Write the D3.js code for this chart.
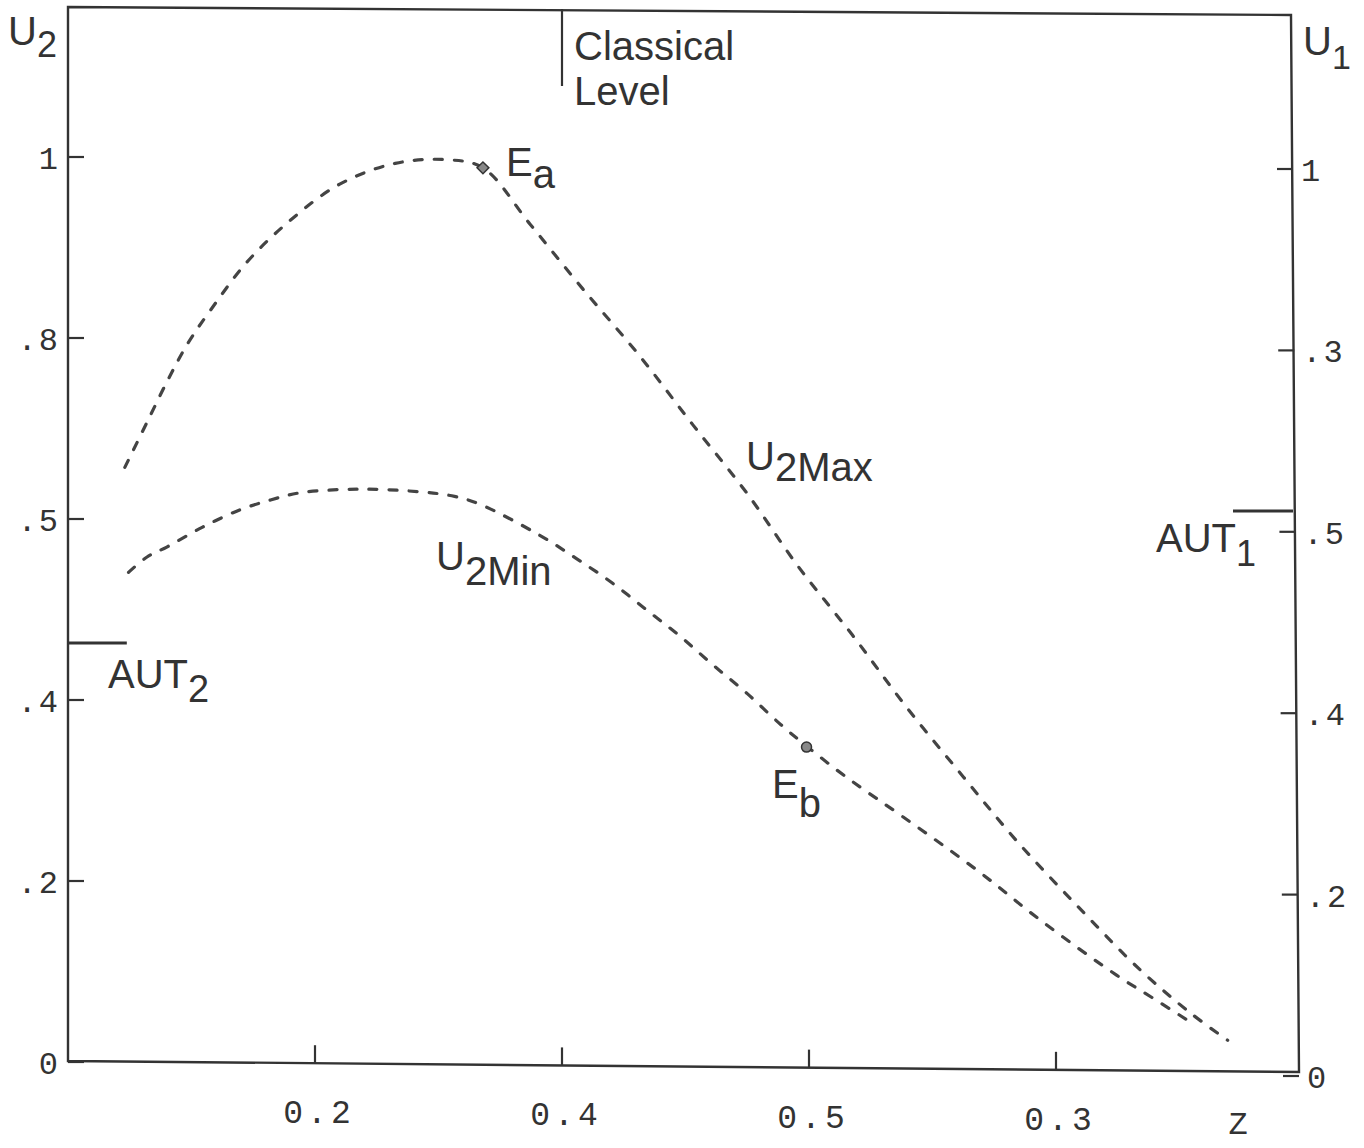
<!DOCTYPE html>
<html><head><meta charset="utf-8">
<script src="https://cdn.jsdelivr.net/npm/d3@7"></script>
<style>body{margin:0;background:#fff}</style>
</head><body><svg id="c" width="1364" height="1148"></svg>
<script>
// ---------- data ----------
const u2MaxZ = [0.046,0.064,0.081,0.097,0.115,0.145,0.180,0.220,0.265,0.307,0.336,0.374,0.417,0.463,0.506,0.550,0.591,0.635,0.679,0.725,0.769,0.819,0.868,0.909,0.939];
const u2MaxV = [0.657,0.707,0.754,0.794,0.830,0.884,0.930,0.970,0.993,0.997,0.988,0.926,0.854,0.780,0.704,0.628,0.548,0.472,0.392,0.315,0.243,0.170,0.102,0.054,0.024];
const u2MinZ = [0.049,0.064,0.080,0.109,0.139,0.164,0.188,0.236,0.285,0.313,0.334,0.382,0.412,0.441,0.469,0.496,0.522,0.550,0.577,0.598,0.631,0.676,0.736,0.789,0.849,0.878,0.909];
const u2MinV = [0.541,0.558,0.569,0.591,0.610,0.621,0.629,0.633,0.630,0.625,0.616,0.582,0.556,0.529,0.499,0.470,0.439,0.407,0.373,0.349,0.314,0.271,0.212,0.155,0.096,0.071,0.044];
const xTicks = [0.2,0.4,0.6,0.8];
const xTickLabels = ["0.2","0.4","0.5","0.3"];
const yTicks = [0,0.2,0.4,0.6,0.8,1];
const leftTickLabels = ["0",".2",".4",".5",".8","1"];
const rightTickLabels = ["0",".2",".4",".5",".3","1"];
const eqNames = ["a","b"];
const eqZ = [0.336,0.598];
const eqV = [0.988,0.348];
const classicalZ = 0.4;
const aut2Level = 0.463;   // left scale
const aut1Level = 0.623;   // right scale

// ---------- scales ----------
const svg = d3.select("#c");
const x = d3.scaleLinear().domain([0,1]).range([68,1303]);
const yL = d3.scaleLinear().domain([0,1]).range([1062,157]);
const yR = d3.scaleLinear().domain([0,1]).range([1076,169]);
const bottomY = d3.scaleLinear().domain([68,1299]).range([1061,1072]);

const ink = "#333";
const sans = "'Liberation Sans', Arial, sans-serif";
const mono = "'Liberation Mono', 'DejaVu Sans Mono', monospace";

svg.append("rect").attr("width",1364).attr("height",1148).attr("fill","#fff");

// frame (slightly skewed like the scan)
svg.append("path")
  .attr("d","M68,7 L1291,15 L1299,1072 L68,1061 Z")
  .attr("fill","none").attr("stroke",ink).attr("stroke-width",2.4);

// left axis ticks + labels
const gl = svg.append("g");
yTicks.forEach((t,i)=>{
  gl.append("line").attr("x1",68).attr("x2",84).attr("y1",yL(t)).attr("y2",yL(t))
    .attr("stroke",ink).attr("stroke-width",2.2);
  gl.append("text").attr("x",60).attr("y",yL(t)+12).attr("text-anchor","end")
    .attr("font-family",mono).attr("font-size",32).attr("fill",ink)
    .attr("letter-spacing",2).text(leftTickLabels[i]);
});
// right axis ticks + labels
const gr = svg.append("g");
yTicks.forEach((t,i)=>{
  const xr = 1292 + 7*(yR(t)-15)/1057;
  gr.append("line").attr("x1",xr-16).attr("x2",xr).attr("y1",yR(t)).attr("y2",yR(t))
    .attr("stroke",ink).attr("stroke-width",2.2);
  gr.append("text").attr("x",xr+8).attr("y",yR(t)+12).attr("text-anchor","start")
    .attr("font-family",mono).attr("font-size",32).attr("fill",ink)
    .attr("letter-spacing",2).text(rightTickLabels[i]);
});
// bottom ticks + labels
const gb = svg.append("g");
xTicks.forEach((t,i)=>{
  const by = bottomY(x(t));
  gb.append("line").attr("x1",x(t)).attr("x2",x(t)).attr("y1",by).attr("y2",by-18)
    .attr("stroke",ink).attr("stroke-width",2.2);
  gb.append("text").attr("x",x(t)+4).attr("y",by+60).attr("text-anchor","middle")
    .attr("font-family",mono).attr("font-size",33).attr("fill",ink)
    .attr("letter-spacing",4).text(xTickLabels[i]);
});
svg.append("text").attr("x",1238).attr("y",1134).attr("text-anchor","middle")
  .attr("font-family",mono).attr("font-size",32).attr("fill",ink).text("Z");

// axis titles
function subText(px,py,main,sub,dy,size,subSize){
  const t = svg.append("text").attr("x",px).attr("y",py)
    .attr("font-family",sans).attr("font-size",size).attr("fill",ink);
  t.append("tspan").text(main);
  t.append("tspan").attr("dy",dy).attr("font-size",subSize||size).text(sub);
  return t;
}
subText(8,45,"U","2",12,40,36);
subText(1303,55,"U","1",14,40,34);

// classical level
svg.append("line").attr("x1",x(classicalZ)).attr("x2",x(classicalZ)).attr("y1",9).attr("y2",86)
  .attr("stroke",ink).attr("stroke-width",2.2);
svg.append("text").attr("x",574).attr("y",60).attr("font-family",sans).attr("font-size",40).attr("fill",ink).text("Classical");
svg.append("text").attr("x",574).attr("y",105).attr("font-family",sans).attr("font-size",40).attr("fill",ink).text("Level");

// AUT levels
svg.append("line").attr("x1",68).attr("x2",x(u2MaxZ[0])+2).attr("y1",yL(aut2Level)).attr("y2",yL(aut2Level))
  .attr("stroke",ink).attr("stroke-width",3);
subText(108,688,"AUT","2",14,40,38);
svg.append("line").attr("x1",1233).attr("x2",1293).attr("y1",yR(aut1Level)).attr("y2",yR(aut1Level))
  .attr("stroke",ink).attr("stroke-width",3);
subText(1156,552,"AUT","1",14,40,36);

// curves
const line = d3.line().x(d=>x(d[0])).y(d=>yL(d[1])).curve(d3.curveCatmullRom.alpha(0.5));
const maxPts = u2MaxZ.map((z,i)=>[z,u2MaxV[i]]);
const minPts = u2MinZ.map((z,i)=>[z,u2MinV[i]]);
[maxPts,minPts].forEach(p=>{
  svg.append("path").attr("d",line(p)).attr("fill","none")
    .attr("stroke","#444").attr("stroke-width",3.2)
    .attr("stroke-dasharray","8,12").attr("stroke-linecap","round");
});

// curve labels
subText(746,470,"U","2Max",11,40,40);
subText(436,570,"U","2Min",15,40,40);

// equilibrium points
svg.append("path").attr("transform",`translate(${x(eqZ[0])},${yL(eqV[0])}) rotate(45)`)
  .attr("d",d3.symbol().type(d3.symbolSquare).size(70)())
  .attr("fill","#888").attr("stroke",ink).attr("stroke-width",1.5);
svg.append("circle").attr("cx",x(eqZ[1])).attr("cy",yL(eqV[1])).attr("r",5)
  .attr("fill","#888").attr("stroke",ink).attr("stroke-width",1.5);
subText(506,176,"E",eqNames[0],12,40,40);
subText(772,798,"E",eqNames[1],19,40,40);
</script></body></html>
